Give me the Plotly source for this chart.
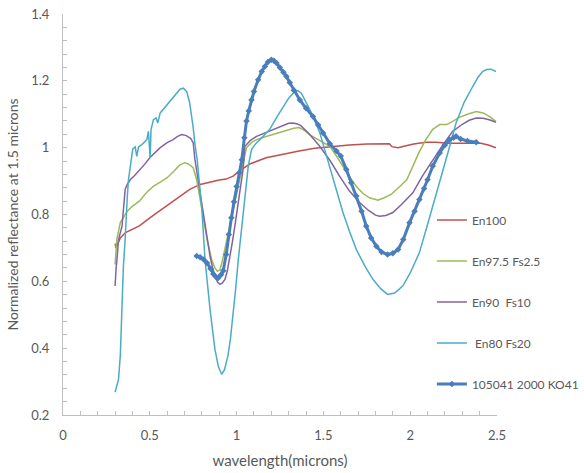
import plotly.graph_objects as go

# ---- data ----
en100_x = [0.30, 0.305, 0.31, 0.33, 0.36, 0.40, 0.44, 0.50, 0.56, 0.60, 0.67, 0.73, 0.79, 0.85, 0.90, 0.94, 0.98,
           1.02, 1.08, 1.17, 1.25, 1.36, 1.45, 1.55, 1.65, 1.75, 1.85, 1.88, 1.895, 1.93, 1.97, 2.02, 2.09, 2.15,
           2.22, 2.28, 2.34, 2.40, 2.45, 2.494]
en100_y = [0.713, 0.700, 0.705, 0.730, 0.746, 0.757, 0.766, 0.790, 0.812, 0.826, 0.852, 0.875, 0.890, 0.898, 0.903,
           0.906, 0.915, 0.932, 0.952, 0.970, 0.979, 0.990, 0.998, 1.004, 1.008, 1.011, 1.012, 1.012, 1.003, 1.000,
           1.005, 1.011, 1.016, 1.016, 1.013, 1.012, 1.013, 1.014, 1.008, 1.000]

en975_x = [0.30, 0.305, 0.31, 0.33, 0.35, 0.37, 0.40, 0.44, 0.48, 0.52, 0.56, 0.60, 0.64, 0.67, 0.70, 0.72, 0.75,
           0.77, 0.785, 0.80, 0.815, 0.83, 0.856, 0.875, 0.89, 0.905, 0.92, 0.94, 0.96, 0.98, 1.0, 1.015, 1.03,
           1.057, 1.085, 1.115, 1.16, 1.21, 1.26, 1.30, 1.33, 1.36, 1.39, 1.42, 1.48, 1.537, 1.575, 1.61, 1.65,
           1.69, 1.73, 1.766, 1.79, 1.814, 1.85, 1.89, 1.94, 1.98, 2.015, 2.05, 2.09, 2.13, 2.17, 2.21, 2.25,
           2.28, 2.33, 2.38, 2.42, 2.46, 2.494]
en975_y = [0.650, 0.680, 0.725, 0.776, 0.795, 0.810, 0.825, 0.840, 0.865, 0.884, 0.897, 0.910, 0.930, 0.947, 0.955,
           0.952, 0.940, 0.904, 0.860, 0.815, 0.770, 0.725, 0.666, 0.640, 0.630, 0.635, 0.666, 0.715, 0.765, 0.815,
           0.865, 0.900, 0.934, 1.000, 1.015, 1.024, 1.032, 1.040, 1.048, 1.054, 1.058, 1.060, 1.052, 1.039, 1.022,
           1.004, 0.975, 0.944, 0.913, 0.884, 0.862, 0.850, 0.846, 0.843, 0.850, 0.860, 0.884, 0.904, 0.944, 0.985,
           1.024, 1.055, 1.069, 1.069, 1.080, 1.090, 1.100, 1.108, 1.104, 1.092, 1.078]

en90_x = [0.30, 0.302, 0.306, 0.31, 0.32, 0.34, 0.35, 0.358, 0.37, 0.387, 0.41, 0.444, 0.47, 0.50, 0.53, 0.56, 0.60,
          0.634, 0.66, 0.684, 0.71, 0.735, 0.75, 0.76, 0.775, 0.79, 0.805, 0.818, 0.833, 0.847, 0.862, 0.875, 0.89,
          0.904, 0.918, 0.933, 0.946, 0.96, 0.975, 0.99, 1.005, 1.02, 1.037, 1.048, 1.08, 1.115, 1.16, 1.21, 1.25,
          1.30, 1.325, 1.35, 1.37, 1.42, 1.479, 1.54, 1.594, 1.65, 1.71, 1.76, 1.80, 1.824, 1.86, 1.90, 1.95, 2.015,
          2.07, 2.13, 2.19, 2.245, 2.30, 2.34, 2.38, 2.42, 2.46, 2.494]
en90_y = [0.586, 0.630, 0.640, 0.660, 0.725, 0.765, 0.840, 0.875, 0.890, 0.904, 0.915, 0.934, 0.950, 0.970, 0.985,
          1.000, 1.015, 1.024, 1.034, 1.039, 1.036, 1.028, 1.015, 0.964, 0.915, 0.865, 0.815, 0.765, 0.720, 0.675,
          0.640, 0.616, 0.598, 0.591, 0.595, 0.606, 0.630, 0.666, 0.715, 0.765, 0.815, 0.865, 0.934, 1.004, 1.022,
          1.034, 1.044, 1.054, 1.064, 1.073, 1.074, 1.071, 1.066, 1.040, 1.004, 0.960, 0.914, 0.870, 0.835, 0.812,
          0.798, 0.795, 0.797, 0.806, 0.830, 0.865, 0.915, 0.964, 1.010, 1.049, 1.070, 1.082, 1.089, 1.088, 1.083,
          1.076]

en80_x = [0.30, 0.31, 0.32, 0.33, 0.335, 0.34, 0.348, 0.358, 0.362, 0.37, 0.377, 0.385, 0.396, 0.402, 0.416, 0.425,
          0.435, 0.454, 0.483, 0.492, 0.502, 0.507, 0.521, 0.536, 0.546, 0.56, 0.598, 0.636, 0.674, 0.693, 0.713,
          0.73, 0.741, 0.75, 0.76, 0.773, 0.80, 0.818, 0.847, 0.875, 0.895, 0.914, 0.93, 0.95, 0.965, 0.98, 0.995,
          1.01, 1.025, 1.038, 1.052, 1.067, 1.086, 1.11, 1.134, 1.16, 1.19, 1.23, 1.268, 1.30, 1.335, 1.355, 1.373,
          1.40, 1.44, 1.479, 1.52, 1.555, 1.585, 1.613, 1.65, 1.69, 1.74, 1.785, 1.83, 1.87, 1.91, 1.957, 2.0,
          2.053, 2.10, 2.15, 2.17, 2.22, 2.264, 2.31, 2.36, 2.39, 2.417, 2.44, 2.466, 2.494]
en80_y = [0.268, 0.290, 0.307, 0.377, 0.450, 0.526, 0.646, 0.725, 0.785, 0.850, 0.904, 0.940, 0.974, 0.996, 1.002,
          0.974, 1.002, 1.009, 1.024, 1.049, 0.969, 1.054, 1.084, 1.089, 1.074, 1.104, 1.128, 1.153, 1.175, 1.178,
          1.168, 1.133, 1.100, 1.060, 1.010, 0.964, 0.815, 0.666, 0.516, 0.397, 0.345, 0.322, 0.335, 0.377, 0.430,
          0.496, 0.580, 0.666, 0.740, 0.815, 0.880, 0.944, 0.994, 1.012, 1.024, 1.038, 1.054, 1.090, 1.123, 1.148,
          1.168, 1.170, 1.163, 1.135, 1.095, 1.045, 0.970, 0.905, 0.850, 0.805, 0.750, 0.695, 0.645, 0.606, 0.578,
          0.561, 0.565, 0.586, 0.625, 0.686, 0.770, 0.860, 0.904, 0.990, 1.074, 1.135, 1.183, 1.210, 1.228, 1.234,
          1.235, 1.228]

ko41_x = [0.77, 0.79, 0.81, 0.83, 0.85, 0.866, 0.88, 0.894, 0.91, 0.923, 0.94, 0.955, 0.97, 0.985, 1.0, 1.015, 1.03,
          1.045, 1.057, 1.07, 1.086, 1.10, 1.124, 1.145, 1.163, 1.18, 1.20, 1.215, 1.23, 1.249, 1.27, 1.287, 1.306,
          1.33, 1.364, 1.40, 1.44, 1.47, 1.498, 1.537, 1.575, 1.60, 1.632, 1.66, 1.69, 1.72, 1.747, 1.775, 1.805,
          1.835, 1.87, 1.90, 1.93, 1.96, 1.996, 2.025, 2.053, 2.08, 2.10, 2.13, 2.17, 2.20, 2.226, 2.25, 2.264,
          2.29, 2.33, 2.38]
ko41_y = [0.676, 0.672, 0.665, 0.655, 0.638, 0.622, 0.614, 0.610, 0.620, 0.632, 0.680, 0.740, 0.790, 0.838, 0.884,
          0.925, 0.964, 1.030, 1.080, 1.110, 1.143, 1.168, 1.203, 1.228, 1.243, 1.256, 1.263, 1.260, 1.253, 1.240,
          1.226, 1.213, 1.195, 1.172, 1.143, 1.118, 1.093, 1.068, 1.044, 1.012, 0.990, 0.975, 0.935, 0.895, 0.855,
          0.810, 0.765, 0.730, 0.705, 0.688, 0.680, 0.684, 0.695, 0.725, 0.775, 0.810, 0.845, 0.878, 0.904, 0.945,
          0.984, 1.008, 1.024, 1.030, 1.034, 1.026, 1.020, 1.016]

series_names = ["En100", "En97.5 Fs2.5", "En90\u00a0 Fs10", "\u00a0En80 Fs20", "105041 2000 KO41"]

FONT = "Lato, 'Open Sans', sans-serif"
TXT = "#595959"
AX = "#BFBFBF"

fig = go.Figure()
plain = [(en100_x, en100_y, "#C0504D"), (en975_x, en975_y, "#9BBB59"),
         (en90_x, en90_y, "#8064A2"), (en80_x, en80_y, "#4BACC6")]
for i, (xs, ys, col) in enumerate(plain):
    fig.add_trace(go.Scatter(x=xs, y=ys, mode="lines", name=series_names[i], legendgroup=f"g{i}",
                             line=dict(color=col, width=1.5)))
fig.add_trace(go.Scatter(x=ko41_x, y=ko41_y, mode="lines+markers", name=series_names[4], legendgroup="g4",
                         line=dict(color="#4A7EBB", width=3),
                         marker=dict(symbol="diamond", size=5, color="#4A7EBB")))

fig.update_layout(
    width=584, height=473,
    margin=dict(l=63, r=87, t=14, b=58, autoexpand=False),
    paper_bgcolor="white", plot_bgcolor="white",
    font=dict(family=FONT, size=13, color=TXT),
    showlegend=True,
    legend=dict(x=0.850, y=0.5224, xanchor="left", yanchor="top", bgcolor="rgba(0,0,0,0)",
                font=dict(family=FONT, size=12, color=TXT), tracegroupgap=22, traceorder="grouped"),
    xaxis=dict(range=[0, 2.5], dtick=0.5, showgrid=False, zeroline=False, showline=True, linecolor=AX,
               linewidth=1, ticks="inside", ticklen=4, tickcolor=AX, ticklabeloverflow="allow",
               minor=dict(dtick=0.1, ticks="inside", ticklen=4, tickcolor=AX, showgrid=False),
               ticklabelstandoff=8,
               title=dict(text="wavelength(microns)", font=dict(size=15, color=TXT), standoff=13)),
    yaxis=dict(range=[0.2, 1.4], dtick=0.2, showgrid=False, zeroline=False, showline=True, linecolor=AX,
               linewidth=1, ticks="inside", ticklen=4, tickcolor=AX, ticklabeloverflow="allow",
               minor=dict(dtick=0.04, ticks="inside", ticklen=4, tickcolor=AX, showgrid=False),
               ticklabelstandoff=10,
               title=dict(text="Normalized reflectance at 1.5 microns", font=dict(size=14, color=TXT), standoff=9)),
)

# remove the browser's default 8px page margin so the figure fills the window exactly
fig.write_html("out.html", config={"displayModeBar": False},
               post_script="document.body.style.margin='0px';")
